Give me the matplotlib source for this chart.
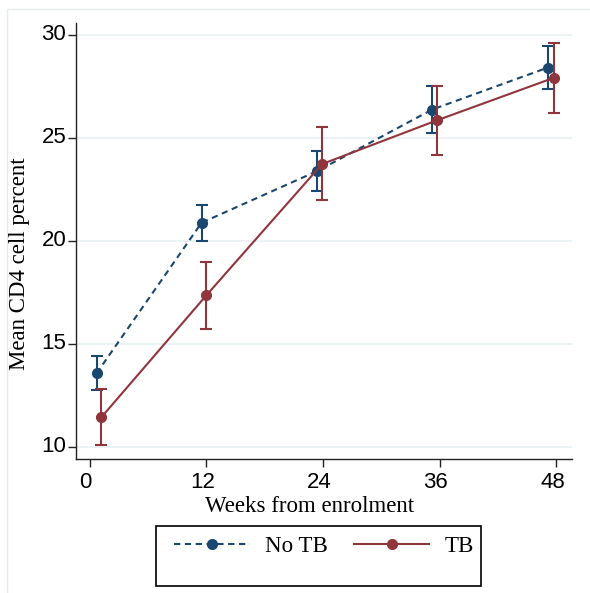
import matplotlib
matplotlib.use("Agg")
import matplotlib.pyplot as plt
from matplotlib.lines import Line2D
from matplotlib.patches import Rectangle
from matplotlib.transforms import ScaledTranslation
import numpy as np

# data
weeks_notb = [0.7, 11.5, 23.4, 35.2, 47.1]
mean_notb = [13.56, 20.87, 23.38, 26.36, 28.40]
lo_notb = [12.75, 19.97, 22.40, 25.21, 27.38]
hi_notb = [14.42, 21.73, 24.35, 27.52, 29.47]

weeks_tb = [1.2, 12.0, 23.9, 35.7, 47.7]
mean_tb = [11.43, 17.35, 23.72, 25.84, 27.90]
lo_tb = [10.08, 15.71, 21.96, 24.16, 26.18]
hi_tb = [12.79, 18.97, 25.50, 27.50, 29.60]

xticks = [0, 12, 24, 36, 48]
yticks = [10, 15, 20, 25, 30]

navy = "#1a476f"
maroon = "#90353b"
grid_col = "#eaf2f3"

W, H = 590, 593
fig = plt.figure(figsize=(5.9, 5.93), dpi=100)

# faint outer graph-region frame
fig.patches.append(Rectangle((7 / W, -0.2), 1.2, 1 - 9 / H + 0.2, transform=fig.transFigure,
                             fill=False, edgecolor="#e4ecee", linewidth=1.0))

ax = fig.add_axes([76 / W, 1 - 459.3 / H, (572 - 76) / W, (459.3 - 22.7) / H])

def draw_series(x, m, lo, hi, color, ls, z):
    m = np.array(m)
    yerr = [m - np.array(lo), np.array(hi) - m]
    ax.errorbar(x, m, yerr=yerr, fmt="none", ecolor=color, elinewidth=1.5,
                capsize=4.5, capthick=1.5, zorder=z)
    ax.plot(x, m, color=color, linestyle=ls, linewidth=1.5, marker="o",
            markersize=7, zorder=z + 0.5)

draw_series(weeks_notb, mean_notb, lo_notb, hi_notb, navy, (0, (3, 2.2)), 3)
draw_series(weeks_tb, mean_tb, lo_tb, hi_tb, maroon, "-", 4)

ax.set_xlim(-1.41, 49.6)
ax.set_ylim(9.39, 30.58)
ax.set_xticks(xticks)
ax.set_yticks(yticks)
for yv in yticks:
    ax.axhline(yv, color=grid_col, linewidth=1.5, zorder=0)

for s in ["top", "right"]:
    ax.spines[s].set_visible(False)
for s in ["left", "bottom"]:
    ax.spines[s].set_linewidth(1.0)
    ax.spines[s].set_color("#222222")

ax.tick_params(axis="both", direction="out", length=6, width=1.0, color="#222222",
               labelsize=16)
ax.tick_params(axis="x", pad=3.5)
ax.tick_params(axis="y", pad=1)
xshift = ScaledTranslation(-4 / 100, 0, fig.dpi_scale_trans)
yshift = ScaledTranslation(0, 3 / 100, fig.dpi_scale_trans)
for lab in ax.get_xticklabels():
    lab.set_fontfamily("Liberation Sans")
    lab.set_transform(lab.get_transform() + xshift)
for lab in ax.get_yticklabels():
    lab.set_fontfamily("Liberation Sans")
    lab.set_transform(lab.get_transform() + yshift)

fig.text(310 / W, 1 - 511.7 / H, "Weeks from enrolment", ha="center", va="baseline",
         fontsize=16.5, family="Liberation Serif")
fig.text(20 / W, 1 - 264 / H, "Mean CD4 cell percent", ha="center", va="center",
         rotation=90, fontsize=16.5, family="Liberation Serif")

# legend box
fig.patches.append(Rectangle((156 / W, 1 - 586 / H), (481 - 156) / W, 60 / H,
                             transform=fig.transFigure, fill=False,
                             edgecolor="black", linewidth=1.2))
handles = [
    Line2D([], [], color=navy, linestyle=(0, (3, 2.2)), linewidth=1.5, marker="o", markersize=7),
    Line2D([], [], color=maroon, linestyle="-", linewidth=1.5, marker="o", markersize=7),
]
fig.legend(handles, ["No TB", "TB"], loc="center left", bbox_to_anchor=(174 / W, 1 - 546.7 / H),
           ncol=2, frameon=False, borderpad=0, borderaxespad=0, handlelength=3.3,
           handletextpad=0.65, columnspacing=1.15, prop={"family": "Liberation Serif", "size": 16.5})

fig.savefig("out.png", dpi=100, facecolor="white")
